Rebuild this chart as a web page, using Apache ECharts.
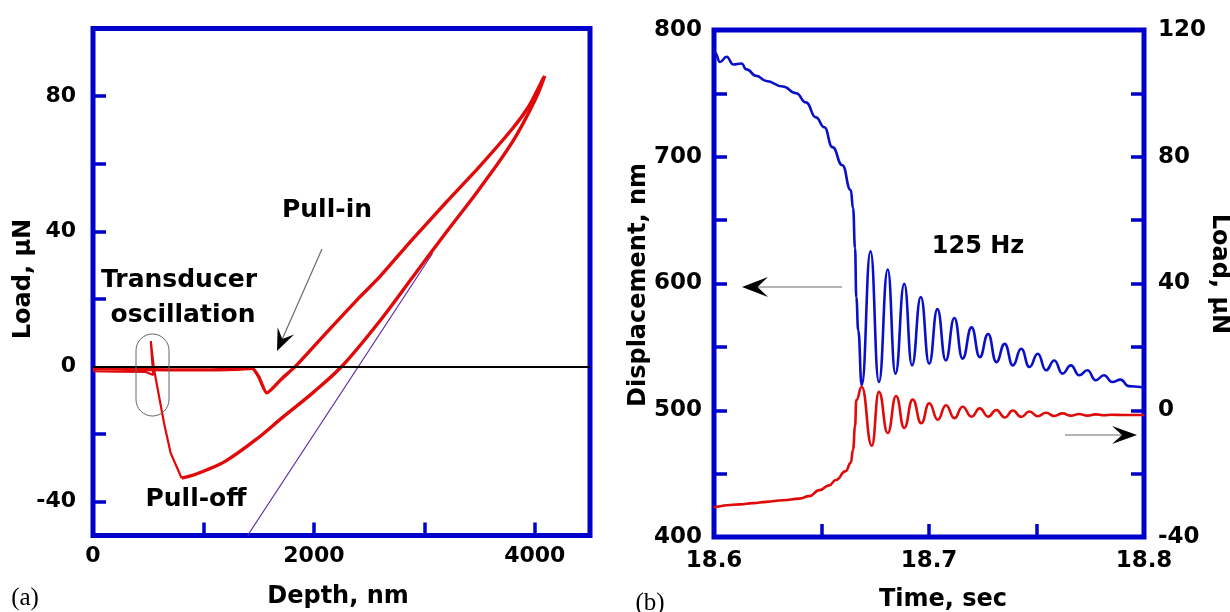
<!DOCTYPE html>
<html><head><meta charset="utf-8">
<script src="https://cdn.jsdelivr.net/npm/echarts@6/dist/echarts.min.js"></script>
<style>html,body{margin:0;padding:0;background:#fff}#c{width:1230px;height:612px}</style>
</head><body><div id="c"></div>
<script>
// ---------- Panel (a): load vs depth ----------
const approachDepth = [0, 300, 700, 1000, 1300, 1440, 1500, 1574, 1700, 1844, 2114, 2414, 2595, 2892, 3198, 3495, 3793, 3946, 4081];
const approachLoad  = [-0.6, -0.8, -1.0, -1.0, -0.8, -0.5, -3.0, -7.8, -3.9, 0.4, 10, 20.5, 26.5, 37.6, 48.6, 59, 70.2, 77, 85.6];

const unloadDepth = [4090, 4006, 3795, 3495, 3195, 2895, 2595, 2260, 2000, 1700, 1500, 1200, 1000, 900, 802];
const unloadLoad  = [86, 79.1, 66.3, 52.4, 39.6, 26.5, 13.4, 0.3, -7.5, -15.5, -21, -28, -31, -32.2, -33];

const pulloffDepth = [802, 703, 643, 598, 553, 523, 545, 480, 200, 0];
const pulloffLoad  = [-33, -25.6, -16.7, -8.8, -0.9, 7.5, -2.5, -1.6, -1.5, -1.4];

const fitDepth = [1400, 3075];
const fitLoad  = [-50, 33.5];

const depthLabels = [0, 2000, 4000];
const depthTicks  = [1000, 2000, 3000, 4000];
const loadALabels = [-40, 0, 40, 80];
const loadATicks  = [-40, -20, 20, 40, 60, 80];

// ---------- Panel (b): displacement & load vs time ----------
const dispTime = [18.6, 18.6005, 18.6028, 18.6059, 18.6089, 18.6128, 18.6151, 18.6197, 18.6243, 18.6320, 18.6382, 18.6428, 18.6474, 18.6513, 18.6551, 18.6597, 18.6636, 18.6647, 18.6656, 18.6662, 18.6671, 18.6687,
  18.6728, 18.6767, 18.6808, 18.6844, 18.6885, 18.6921, 18.6962, 18.7001, 18.7039, 18.7078, 18.7118, 18.7156, 18.7198, 18.7236, 18.7275, 18.7313, 18.7352, 18.7390, 18.7429, 18.7467, 18.7506, 18.7544, 18.7583, 18.7621, 18.7660, 18.7698, 18.7737, 18.7775, 18.7814, 18.7852, 18.7891, 18.7929, 18.7983, 18.8];
const dispVal = [784, 782, 774.7, 778.9, 772.8, 773.6, 768.9, 763.8, 759.8, 755.4, 750.1, 742.9, 731.1, 723.3, 707.6, 693.3, 673.7, 659.3, 628, 588.9, 562.8, 519.8,
  625.4, 522.3, 611.1, 528.9, 599.8, 535.4, 589.4, 536.7, 579.8, 539.3, 572.8, 540.7, 565.4, 541.9, 560.2, 538, 552.4, 535.4, 548.5, 534.1, 544.6, 531.5, 539.3, 528.9, 535.4, 527.6, 531.5, 523.7, 527.6, 522.3, 524.2, 519, 518.4, 518];

const loadTime = [18.6, 18.6012, 18.6059, 18.6120, 18.6182, 18.6243, 18.6320, 18.6397, 18.6443, 18.6490, 18.6536, 18.6567, 18.6613, 18.6636, 18.6647, 18.6656, 18.6662, 18.6687,
  18.6734, 18.6767, 18.6808, 18.6847, 18.6885, 18.6924, 18.6964, 18.7001, 18.7041, 18.7079, 18.7118, 18.7156, 18.7198, 18.7236, 18.7275, 18.7313, 18.7352, 18.7390, 18.7429, 18.7467, 18.7506, 18.7544, 18.7583, 18.7621, 18.7660, 18.7698, 18.7737, 18.7775, 18.7814, 18.7850, 18.7900, 18.8];
const loadVal = [-30.8, -30.4, -30.0, -29.7, -29.3, -28.9, -28.4, -27.9, -27.1, -25.2, -23.7, -22.0, -19.2, -16.6, -12.4, -5.1, 3.2, 7.4,
  -11.2, 5.8, -7.2, 4.5, -5.6, 3.4, -4.1, 2.2, -3.0, 1.6, -2.5, 1.1, -2.0, 0.6, -2.0, 0.1, -2.3, -0.1, -2.1, -0.4, -1.9, -0.8, -1.8, -1.0, -1.7, -1.2, -1.7, -1.3, -1.6, -1.4, -1.5, -1.5];

const timeLabels = [18.6, 18.7, 18.8];
const timeTicks  = [18.65, 18.7, 18.75];
const dispLabels = [400, 500, 600, 700, 800];
const dispTicks  = [450, 500, 550, 600, 650, 700, 750];
const loadBLabels = [-40, 0, 40, 80, 120];
const loadBTicks  = [-20, 0, 20, 40, 60, 80, 100];

// ---------- styling ----------
const BLUE = '#0000cc';
const RED = '#e00a0a';
const FONT = 'DejaVu Sans';
const zip = (a, b) => a.map((v, i) => [v, b[i]]);

function tickCfg(vals) {
  return { show: true, inside: true, length: 13, customValues: vals, lineStyle: { color: BLUE, width: 3.5 } };
}
function labelCfg(vals, size, margin, fmt) {
  return { show: true, customValues: vals, margin: margin, color: '#000', fontFamily: FONT, fontWeight: 'bold', fontSize: size,
    formatter: fmt || (v => String(v)) };
}
const noLine = { show: false, onZero: false };

function arrowHead(tip, from, len, half, notch) {
  const dx = tip[0] - from[0], dy = tip[1] - from[1];
  const L = Math.hypot(dx, dy); const ux = dx / L, uy = dy / L;
  const nx = -uy, ny = ux;
  const bx = tip[0] - ux * len, by = tip[1] - uy * len;
  const mx = tip[0] - ux * notch, my = tip[1] - uy * notch;
  return { type: 'polygon', z: 10, shape: { points: [tip, [bx + nx * half, by + ny * half], [mx, my], [bx - nx * half, by - ny * half]] }, style: { fill: '#000' } };
}
function arrow(from, tip, len, half) {
  const dx = tip[0] - from[0], dy = tip[1] - from[1];
  const L = Math.hypot(dx, dy);
  const end = [tip[0] - dx / L * 8, tip[1] - dy / L * 8];
  return [
    { type: 'line', z: 10, shape: { x1: from[0], y1: from[1], x2: end[0], y2: end[1] }, style: { stroke: '#6a6a6a', lineWidth: 1.2 } },
    arrowHead(tip, from, len, half, len * 0.6)
  ];
}
function txt(x, y, text, size, rot, family, weight) {
  return { type: 'text', x: x, y: y, rotation: rot || 0, z: 10,
    style: { text: text, x: 0, y: 0, align: 'center', verticalAlign: 'middle', fill: '#000',
      font: (weight || 'bold') + ' ' + size + 'px "' + (family || FONT) + '"' } };
}

const chart = echarts.init(document.getElementById('c'));
chart.setOption({
  animation: false,
  backgroundColor: '#fff',
  grid: [
    { left: 93, top: 28.5, width: 497, height: 507, show: true, borderColor: BLUE, borderWidth: 5, backgroundColor: 'transparent' },
    { left: 714, top: 30, width: 430, height: 507, show: true, borderColor: BLUE, borderWidth: 5, backgroundColor: 'transparent' }
  ],
  xAxis: [
    { type: 'value', gridIndex: 0, min: 0, max: 4500, interval: 500,
      axisLine: noLine, splitLine: { show: false },
      axisTick: tickCfg(depthTicks), axisLabel: labelCfg(depthLabels, 22, 10) },
    { type: 'value', gridIndex: 1, min: 18.6, max: 18.8, interval: 0.05,
      axisLine: noLine, splitLine: { show: false },
      axisTick: tickCfg(timeTicks), axisLabel: labelCfg(timeLabels, 23, 13, v => v.toFixed(1)) }
  ],
  yAxis: [
    { type: 'value', gridIndex: 0, min: -50, max: 100, interval: 10,
      axisLine: noLine, splitLine: { show: false },
      axisTick: tickCfg(loadATicks), axisLabel: labelCfg(loadALabels, 22, 17) },
    { type: 'value', gridIndex: 1, min: 400, max: 800, interval: 50,
      axisLine: noLine, splitLine: { show: false },
      axisTick: tickCfg(dispTicks), axisLabel: labelCfg(dispLabels, 23, 12) },
    { type: 'value', gridIndex: 1, position: 'right', min: -40, max: 120, interval: 20,
      axisLine: noLine, splitLine: { show: false },
      axisTick: tickCfg(loadBTicks), axisLabel: labelCfg(loadBLabels, 23, 14) }
  ],
  series: [
    { type: 'line', xAxisIndex: 0, yAxisIndex: 0, data: zip(fitDepth, fitLoad), showSymbol: false, z: 2,
      lineStyle: { color: '#5a2aa8', width: 1.2 },
      markLine: { silent: true, symbol: 'none', label: { show: false }, lineStyle: { color: '#000', width: 2, type: 'solid' }, data: [{ yAxis: 0 }] } },
    { type: 'line', xAxisIndex: 0, yAxisIndex: 0, data: zip(approachDepth, approachLoad), showSymbol: false, z: 3,
      smooth: 0.2, lineStyle: { color: RED, width: 3.4 } },
    { type: 'line', xAxisIndex: 0, yAxisIndex: 0, data: zip(unloadDepth, unloadLoad), showSymbol: false, z: 3,
      smooth: 0.35, lineStyle: { color: RED, width: 3.4 } },
    { type: 'line', xAxisIndex: 0, yAxisIndex: 0, data: zip(pulloffDepth, pulloffLoad), showSymbol: false, z: 3,
      lineStyle: { color: RED, width: 2.2 } },
    { type: 'line', xAxisIndex: 1, yAxisIndex: 1, data: zip(dispTime, dispVal), showSymbol: false, z: 3,
      smooth: 0.5, smoothMonotone: 'x', lineStyle: { color: '#0a10c8', width: 2.6 } },
    { type: 'line', xAxisIndex: 1, yAxisIndex: 2, data: zip(loadTime, loadVal), showSymbol: false, z: 3,
      smooth: 0.5, smoothMonotone: 'x', lineStyle: { color: RED, width: 2.6 } }
  ],
  graphic: [
    txt(24, 279, 'Load, μN', 24, Math.PI / 2),
    txt(338, 597, 'Depth, nm', 24),
    txt(639, 285, 'Displacement, nm', 24, Math.PI / 2),
    txt(943, 600, 'Time, sec', 24),
    txt(1219, 274, 'Load, μN', 24, -Math.PI / 2),
    txt(978, 247, '125 Hz', 24),
    txt(327, 210, 'Pull-in', 25),
    txt(179, 280, 'Transducer', 25),
    txt(183, 315, 'oscillation', 25),
    txt(196, 499, 'Pull-off', 25),
    txt(25, 598, '(a)', 25, 0, 'Liberation Serif', 'normal'),
    txt(650, 603, '(b)', 25, 0, 'Liberation Serif', 'normal'),
    { type: 'rect', z: 10, shape: { x: 136, y: 334, width: 33, height: 82, r: 16.5 }, style: { fill: 'none', stroke: '#666', lineWidth: 1 } },
    ...arrow([322, 249], [277, 351], 22, 9),
    ...arrow([842, 287], [742, 287], 26, 10),
    ...arrow([1065, 435], [1137, 435], 25, 9)
  ]
});
</script>
</body></html>
